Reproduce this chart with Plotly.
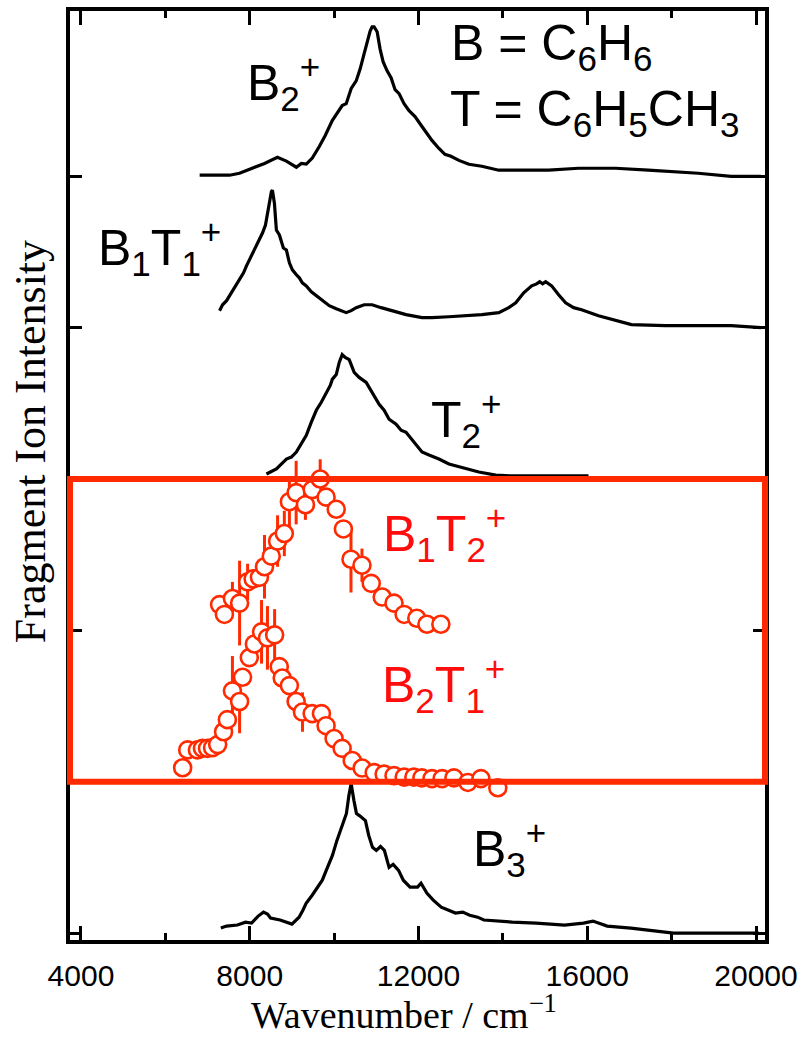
import plotly.graph_objects as go

# ---- photofragment spectra (wavenumber in cm^-1, intensity normalised per panel) ----
b2_wn = [6813, 7522, 7758, 8065, 8350, 8656, 8869, 9105, 9223, 9341, 9483, 9649, 9790,
         9956, 10074, 10192, 10287, 10405, 10523, 10618, 10712, 10783, 10854, 10901, 10948,
         11020, 11090, 11161, 11256, 11350, 11445, 11540, 11658, 11776, 11918, 12083, 12201,
         12319, 12485, 12627, 12769, 12958, 13194, 13501, 13903, 15085, 15794, 16668, 17448,
         18630, 19410, 20119]
b2_int = [0.007, 0.007, 0.02, 0.053, 0.085, 0.125, 0.10, 0.06, 0.085, 0.08, 0.12, 0.197, 0.27,
          0.368, 0.414, 0.467, 0.48, 0.58, 0.63, 0.71, 0.81, 0.89, 0.96, 0.987, 0.987,
          0.955, 0.84, 0.757, 0.697, 0.651, 0.572, 0.546, 0.48, 0.434, 0.395, 0.329, 0.283,
          0.237, 0.184, 0.145, 0.132, 0.105, 0.079, 0.066, 0.04, 0.04, 0.053, 0.053, 0.04,
          0.02, 0.0, 0.0]

b1t1_wn = [7285, 7356, 7451, 7569, 7663, 7758, 7853, 7923, 8018, 8089, 8160, 8231, 8302,
           8373, 8420, 8467, 8514, 8538, 8585, 8632, 8703, 8798, 8869, 8940, 9011, 9105,
           9176, 9247, 9341, 9460, 9578, 9720, 9885, 10051, 10287, 10405, 10523, 10712,
           10901, 11114, 11303, 11540, 11705, 12083, 12319, 12721, 13123, 13501, 13903,
           14139, 14305, 14494, 14683, 14801, 14872, 14943, 15014, 15156, 15321, 15487,
           15676, 15865, 16267, 17046, 17850, 19410, 20119]
b1t1_int = [0.112, 0.151, 0.178, 0.23, 0.276, 0.316, 0.362, 0.408, 0.46, 0.507, 0.54, 0.586,
            0.625, 0.678, 0.757, 0.822, 0.90, 0.908, 0.822, 0.645, 0.612, 0.526, 0.513,
            0.428, 0.382, 0.349, 0.329, 0.296, 0.276, 0.237, 0.21, 0.184, 0.145, 0.125,
            0.099, 0.112, 0.132, 0.151, 0.151, 0.132, 0.118, 0.099, 0.086, 0.066, 0.066,
            0.072, 0.079, 0.086, 0.099, 0.132, 0.164, 0.23, 0.276, 0.289, 0.303, 0.289,
            0.303, 0.276, 0.217, 0.164, 0.132, 0.118, 0.079, 0.02, 0.013, 0.013, 0.0]

t2_wn = [8396, 8632, 8869, 8987, 9105, 9223, 9341, 9460, 9578, 9696, 9814, 9909, 9956,
         10051, 10121, 10192, 10263, 10358, 10476, 10594, 10760, 10901, 11067, 11185, 11303,
         11469, 11587, 11705, 11894, 12083, 12249, 12485, 12721, 13076, 13430, 13832, 14210,
         15321, 16030]
t2_int = [0.033, 0.066, 0.132, 0.145, 0.178, 0.23, 0.289, 0.375, 0.454, 0.507, 0.572, 0.618,
          0.658, 0.69, 0.77, 0.822, 0.803, 0.789, 0.704, 0.671, 0.638, 0.572, 0.493, 0.454,
          0.395, 0.362, 0.322, 0.309, 0.243, 0.178, 0.158, 0.132, 0.099, 0.072, 0.046, 0.026,
          0.02, 0.02, 0.02]

b3_wn = [7315, 7450, 7708, 7900, 8045, 8200, 8326, 8420, 8494, 8719, 9000, 9169, 9260, 9337,
         9480, 9618, 9720, 9843, 9960, 10067, 10180, 10292, 10350, 10404, 10470, 10530, 10600,
         10742, 10820, 10910, 11000, 11100, 11191, 11250, 11303, 11400, 11528, 11640, 11800,
         11978, 12060, 12202, 12350, 12539, 12700, 12876, 13050, 13213, 13400, 13551, 14225,
         14787, 15461, 15910, 16135, 16472, 17034, 17596, 18045, 20067]
b3_int = [0.033, 0.046, 0.053, 0.072, 0.066, 0.112, 0.138, 0.125, 0.099, 0.086, 0.059, 0.105,
          0.151, 0.197, 0.25, 0.303, 0.349, 0.434, 0.513, 0.612, 0.71, 0.79, 0.908, 0.987,
          0.875, 0.79, 0.776, 0.743, 0.645, 0.566, 0.546, 0.572, 0.546, 0.48, 0.434, 0.454,
          0.414, 0.349, 0.303, 0.303, 0.329, 0.263, 0.217, 0.171, 0.151, 0.132, 0.138, 0.118,
          0.105, 0.086, 0.072, 0.066, 0.053, 0.066, 0.079, 0.046, 0.033, 0.013, 0.0, 0.0]

# mixed clusters with error bars
b1t2_wn = [7285, 7400, 7590, 7760, 7950, 8080, 8230, 8350, 8510, 8660, 8820, 8940, 9100,
           9320, 9480, 9670, 9810, 10050, 10220, 10400, 10660, 10880, 11140, 11420, 11660,
           11960, 12200, 12530]
b1t2_int = [0.17, 0.105, 0.21, 0.18, 0.32, 0.34, 0.35, 0.42, 0.49, 0.59, 0.64, 0.85, 0.91,
            0.83, 0.93, 1.0, 0.88, 0.80, 0.67, 0.47, 0.43, 0.31, 0.22, 0.18, 0.105, 0.08,
            0.04, 0.04]
b1t2_err = [0.03, 0.03, 0.11, 0.28, 0.12, 0.05, 0.05, 0.21, 0.09, 0.17, 0.15, 0.17, 0.21,
            0.10, 0.05, 0.13, 0.05, 0.04, 0.05, 0.22, 0.11, 0.04, 0.03, 0.03, 0.03, 0.03,
            0.03, 0.03]

b2t1_wn = [6410, 6530, 6760, 6880, 7000, 7120, 7240, 7380, 7470, 7590, 7760, 7830, 7990,
           8110, 8280, 8420, 8590, 8700, 8770, 8940, 9100, 9250, 9480, 9700, 9810, 10000,
           10190, 10430, 10665, 10950, 11185, 11420, 11660, 11890, 12080, 12320, 12560,
           12840, 13170, 13480, 13880]
b2t1_int = [0.092, 0.21, 0.21, 0.22, 0.22, 0.225, 0.245, 0.33, 0.41, 0.60, 0.53, 0.69, 0.82,
            0.91, 0.99, 0.95, 0.97, 0.76, 0.685, 0.635, 0.53, 0.46, 0.45, 0.45, 0.37, 0.285,
            0.22, 0.14, 0.09, 0.06, 0.05, 0.04, 0.03, 0.03, 0.025, 0.02, 0.02, 0.025,
            -0.005, 0.02, -0.04]
b2t1_err = [0.03, 0.03, 0.03, 0.03, 0.03, 0.03, 0.03, 0.05, 0.05, 0.23, 0.21, 0.05, 0.05,
            0.05, 0.21, 0.21, 0.17, 0.05, 0.05, 0.05, 0.05, 0.13, 0.05, 0.05, 0.05, 0.04,
            0.04, 0.03, 0.03, 0.03, 0.03, 0.03, 0.03, 0.03, 0.03, 0.03, 0.03, 0.03, 0.03,
            0.03, 0.03]

# vertical stacking offsets (one panel unit each)
offsets = {"B3": 0, "B2T1": 1, "B1T2": 2, "T2": 3, "B1T1": 4, "B2": 5}

x_ticks = [4000, 8000, 12000, 16000, 20000]

BLACK = "#000000"
RED = "#ff2a00"
TEXT_RED = "#ff0d0d"

fig = go.Figure()


def shifted(vals, off):
    return [v + off for v in vals]


for wn, inten, key in [(b2_wn, b2_int, "B2"), (b1t1_wn, b1t1_int, "B1T1"),
                       (t2_wn, t2_int, "T2"), (b3_wn, b3_int, "B3")]:
    fig.add_trace(go.Scatter(x=wn, y=shifted(inten, offsets[key]), mode="lines",
                             line=dict(color=BLACK, width=3.2), showlegend=False))

for wn, inten, err, key in [(b1t2_wn, b1t2_int, b1t2_err, "B1T2"),
                            (b2t1_wn, b2t1_int, b2t1_err, "B2T1")]:
    fig.add_trace(go.Scatter(
        x=wn, y=shifted(inten, offsets[key]), mode="markers",
        marker=dict(symbol="circle", size=17, color="white",
                    line=dict(color=RED, width=2.6)),
        error_y=dict(type="data", array=err, visible=True, color=RED,
                     thickness=3, width=0),
        showlegend=False))

# highlight frame around the mixed-cluster spectra
fig.add_shape(type="rect", xref="paper", yref="y", x0=0.0, x1=1.0, y0=1.0, y1=3.0,
              line=dict(color=RED, width=6), fillcolor="rgba(0,0,0,0)", layer="above")

SANS = "Liberation Sans, Arial, sans-serif"
SERIF = "Liberation Serif, Times New Roman, serif"

labels = [
    ("B<sub>2</sub><sup>+</sup>", 7880, 5.62, BLACK),
    ("B<sub>1</sub>T<sub>1</sub><sup>+</sup>", 4360, 4.53, BLACK),
    ("T<sub>2</sub><sup>+</sup>", 12260, 3.39, BLACK),
    ("B<sub>1</sub>T<sub>2</sub><sup>+</sup>", 11100, 2.64, TEXT_RED),
    ("B<sub>2</sub>T<sub>1</sub><sup>+</sup>", 11080, 1.64, TEXT_RED),
    ("B<sub>3</sub><sup>+</sup>", 13250, 0.56, BLACK),
    ("B = C<sub>6</sub>H<sub>6</sub>", 12730, 5.86, BLACK),
    ("T = C<sub>6</sub>H<sub>5</sub>CH<sub>3</sub>", 12690, 5.42, BLACK),
]
for text, x, y, col in labels:
    fig.add_annotation(x=x, y=y, xref="x", yref="y", text=text, showarrow=False,
                       xanchor="left", yanchor="middle",
                       font=dict(family=SANS, size=50, color=col))

# axis titles
fig.add_annotation(x=0.48, y=-0.077, xref="paper", yref="paper",
                   text="Wavenumber / cm<sup>\u22121</sup>", showarrow=False,
                   xanchor="center", yanchor="middle",
                   font=dict(family=SERIF, size=38, color=BLACK))
fig.add_annotation(x=-0.0574, y=0.536, xref="paper", yref="paper",
                   text="Fragment Ion Intensity", showarrow=False, textangle=-90,
                   xanchor="center", yanchor="middle",
                   font=dict(family=SERIF, size=44, color=BLACK))

fig.update_xaxes(range=[3740, 20213], tickvals=x_ticks, ticktext=[str(v) for v in x_ticks],
                 ticks="inside", ticklen=14, tickwidth=3, tickcolor=BLACK,
                 minor=dict(dtick=2000, tick0=0, ticks="inside", ticklen=7, tickwidth=3,
                            tickcolor=BLACK),
                 showline=True, linewidth=3.5, linecolor=BLACK, mirror="allticks",
                 showgrid=False, zeroline=False, ticklabelstandoff=6,
                 tickfont=dict(family=SANS, size=30, color=BLACK))
fig.update_yaxes(range=[-0.046, 6.092], tickvals=[0, 1, 2, 3, 4, 5],
                 showticklabels=False, ticks="inside", ticklen=12, tickwidth=3,
                 tickcolor=BLACK, showline=True, linewidth=3.5, linecolor=BLACK,
                 mirror="allticks", showgrid=False, zeroline=False)

fig.update_layout(width=805, height=1037, margin=dict(l=70, r=38, t=7, b=97),
                  paper_bgcolor="white", plot_bgcolor="white", showlegend=False)

fig.write_html("out.html")
